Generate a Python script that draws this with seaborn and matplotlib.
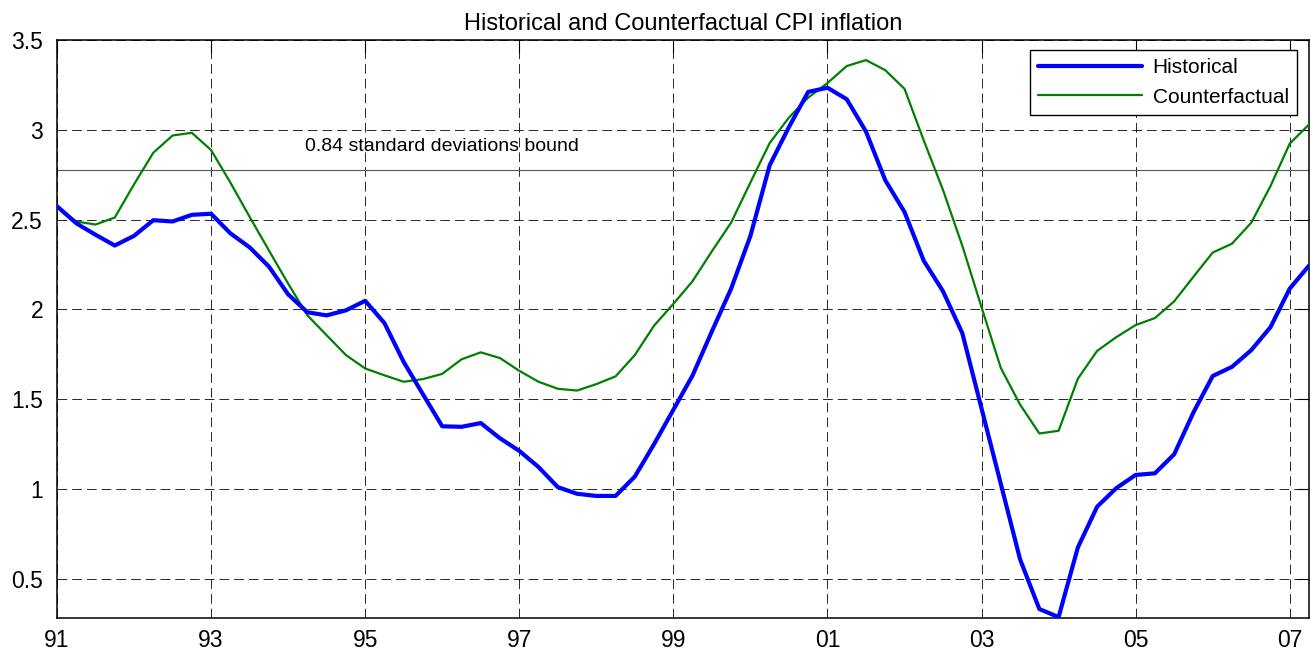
import numpy as np
import pandas as pd
import matplotlib
matplotlib.use("Agg")
import matplotlib.pyplot as plt
import seaborn as sns

# ---- data (quarterly, 1991Q1 .. 2007Q2) ----
start_year = 1991
historical = [2.574, 2.479, 2.415, 2.355, 2.409, 2.496, 2.489, 2.526, 2.532, 2.423,
              2.345, 2.238, 2.083, 1.983, 1.966, 1.994, 2.047, 1.923, 1.706, 1.526,
              1.348, 1.345, 1.366, 1.281, 1.211, 1.121, 1.009, 0.972, 0.960, 0.960,
              1.068, 1.249, 1.440, 1.632, 1.877, 2.115, 2.409, 2.802, 3.015, 3.211,
              3.234, 3.170, 2.990, 2.719, 2.542, 2.270, 2.100, 1.867, 1.447, 1.027,
              0.607, 0.330, 0.285, 0.673, 0.900, 1.004, 1.077, 1.086, 1.192, 1.425,
              1.628, 1.679, 1.772, 1.900, 2.115, 2.243]
counterfactual = [2.574, 2.489, 2.472, 2.511, 2.696, 2.872, 2.968, 2.983, 2.887, 2.706,
                  2.515, 2.328, 2.143, 1.966, 1.855, 1.745, 1.670, 1.632, 1.596, 1.611,
                  1.640, 1.721, 1.760, 1.728, 1.657, 1.596, 1.557, 1.547, 1.583, 1.626,
                  1.745, 1.909, 2.030, 2.157, 2.323, 2.483, 2.706, 2.926, 3.068, 3.179,
                  3.260, 3.355, 3.388, 3.332, 3.228, 2.940, 2.664, 2.354, 2.011, 1.673,
                  1.469, 1.308, 1.323, 1.613, 1.768, 1.845, 1.912, 1.951, 2.044, 2.181,
                  2.316, 2.365, 2.482, 2.686, 2.923, 3.029]
bound = 2.775
bound_label = "0.84 standard deviations bound"
x_tick_years = [1991, 1993, 1995, 1997, 1999, 2001, 2003, 2005, 2007]
x_tick_labels = ["91", "93", "95", "97", "99", "01", "03", "05", "07"]
y_ticks = [0.5, 1, 1.5, 2, 2.5, 3, 3.5]
y_tick_labels = ["0.5", "1", "1.5", "2", "2.5", "3", "3.5"]
title = "Historical and Counterfactual CPI inflation"

t = start_year + np.arange(len(historical)) / 4.0
df = pd.DataFrame({"t": t, "Historical": historical, "Counterfactual": counterfactual})

sns.set_theme(style="white")
plt.rcParams["font.family"] = ["Liberation Sans", "DejaVu Sans"]
plt.rcParams["lines.scale_dashes"] = False
plt.rcParams["text.color"] = "black"

fig = plt.figure(figsize=(13.11, 6.55), dpi=100)
ax = fig.add_axes([57 / 1311, 1 - 618 / 655, (1309 - 57) / 1311, (618 - 40) / 655])

sns.lineplot(data=df, x="t", y="Historical", ax=ax, color=(0, 0, 1), linewidth=3.0,
             label="Historical", zorder=4)
sns.lineplot(data=df, x="t", y="Counterfactual", ax=ax, color=(0, 0.5, 0), linewidth=1.6,
             label="Counterfactual", zorder=3)

ax.axhline(bound, color="#555555", linewidth=0.8, zorder=2)
ax.text(1994.22, 2.905, bound_label, fontsize=14, ha="left", va="center", color="black")

ax.set_xlim(t[0], t[-1])
ax.set_ylim(0.28, 3.5)
ax.set_xticks(x_tick_years)
ax.set_xticklabels(x_tick_labels)
ax.set_yticks(y_ticks)
ax.set_yticklabels(y_tick_labels)
ax.set_xlabel("")
ax.set_ylabel("")

ax.grid(True, color="black", linestyle=(0, (7, 3.6)), linewidth=0.7, alpha=0.85)
ax.set_axisbelow(True)
for s in ax.spines.values():
    s.set_visible(True)
    s.set_color("black")
    s.set_linewidth(1.1)
ax.tick_params(axis="both", which="major", direction="in", length=9, width=0.8,
               top=True, right=True, labelsize=16.5, colors="black")
ax.tick_params(axis="x", pad=8)
ax.tick_params(axis="y", pad=10)

ax.set_title(title, fontsize=17, pad=7, color="black")

leg = ax.legend(loc="upper right", bbox_to_anchor=(1297 / 1311, 1 - 50 / 655),
                bbox_transform=fig.transFigure, borderaxespad=0, fontsize=15,
                handlelength=5.0, handletextpad=0.5, labelspacing=0.5,
                borderpad=0.4, fancybox=False, frameon=True)
leg.get_frame().set_edgecolor("black")
leg.get_frame().set_linewidth(1.0)
leg.get_frame().set_facecolor("white")
leg.get_frame().set_alpha(1)
leg.set_zorder(10)
for txt in leg.get_texts():
    txt.set_color("black")

fig.savefig("out.png", dpi=100, facecolor="white")
